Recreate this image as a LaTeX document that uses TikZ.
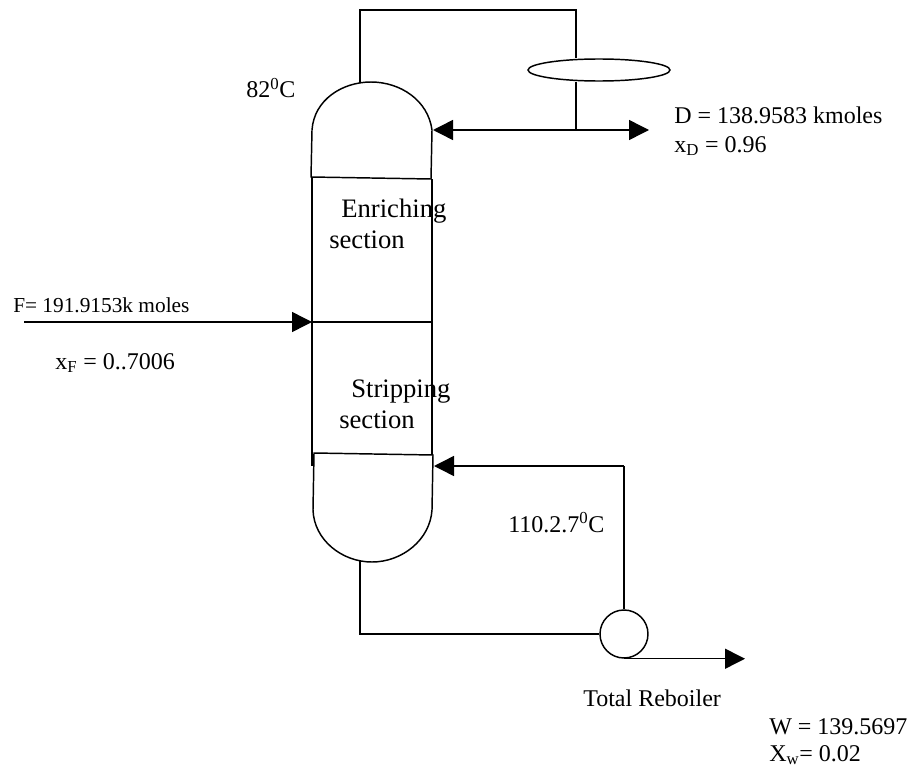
\documentclass[tikz,border=0pt]{standalone}
\usepackage{fontspec}
\setmainfont{Liberation Serif}
\usetikzlibrary{arrows.meta,shapes.geometric}
\tikzset{
  pipe/.style={draw=black,line width=1.1pt,line join=miter},
  flow/.style={pipe,-{Triangle[length=15pt,width=15pt]}},
  lbl/.style={inner sep=0pt,anchor=base west,font=\fontsize{18pt}{20pt}\selectfont},
  big/.style={inner sep=0pt,anchor=base west,font=\fontsize{20pt}{22pt}\selectfont},
  small/.style={inner sep=0pt,anchor=base west,font=\fontsize{16pt}{18pt}\selectfont},
  vessel/.style={draw=black,line width=1.1pt,fill=white}
}
\begin{document}
\begin{tikzpicture}[x=0.75pt,y=-0.75pt]
\useasboundingbox (0,0) rectangle (913,767);
\fill[white] (0,0) rectangle (913,767);
% named points
\coordinate (topA) at (360,83);
\coordinate (topB) at (360,10);
\coordinate (topC) at (576,10);
\coordinate (tee) at (576,130);
\coordinate (refluxIn) at (433,130);
\coordinate (distOut) at (649,130);
\coordinate (feedIn) at (24,322);
\coordinate (feedEnd) at (312,322);
\coordinate (midEnd) at (432,322);
\coordinate (botA) at (360,561);
\coordinate (botB) at (360,634);
\coordinate (boilIn) at (434,466);
\coordinate (corner) at (624,466);
\coordinate (wOut) at (745,634);
% column
\draw[pipe] (312,177) -- (312,466);
\draw[pipe,line width=0.9pt] (432,179) -- (432,455);
\draw[pipe] (feedEnd) -- (midEnd);
% top dome
\draw[pipe] (311,177) -- (312,130) .. controls (314,100) and (342,82) .. (371,82)
  .. controls (400,82) and (428,100) .. (432,130) -- (431,179) -- cycle;
% bottom dome
\draw[pipe] (314,453) -- (433,455) -- (432,510) .. controls (430,540) and (402,562) .. (372,562)
  .. controls (342,562) and (314,540) .. (313,510) -- cycle;
% piping
\node[ellipse,vessel,minimum width=106.5pt,minimum height=16.5pt,inner sep=0pt] (cond) at (599,70) {};
\draw[pipe] (topA) -- (topB) -- (topC) -- (topC |- cond.north);
\draw[pipe] (tee |- cond.south) -- (tee);
\draw[flow] (tee) -- (refluxIn);
\draw[flow] (tee) -- (distOut);
\draw[flow] (feedIn) -- (feedEnd);
\node[circle,vessel,minimum size=36pt,inner sep=0pt] (reb) at (624,634) {};
\draw[pipe] (botA) -- (botB) -- (reb.west);
\draw[pipe] (reb.north) -- (corner);
\draw[flow] (corner) -- (boilIn);
\draw[flow] (reb.south) -- (reb.south -| wOut);
% labels
\node[lbl] (t82) at (246,98) {82\textsuperscript{0}C};
\node[lbl] (tD) at (674,123) {D = 138.9583 kmoles};
\node[lbl] (tXD) at (674,152) {x\textsubscript{D} = 0.96};
\node[big] (tEn) at (341,217) {Enriching};
\node[big] (tEs) at (329,248) {section};
\node[small] (tF) at (13,312) {F= 191.9153k moles};
\node[lbl] (tXF) at (55,369) {x\textsubscript{F} = 0..7006};
\node[big] (tSt) at (351,397) {Stripping};
\node[big] (tSs) at (339,428) {section};
\node[lbl] (tT) at (508,532) {110.2.7\textsuperscript{0}C};
\node[lbl] (tR) at (583,706) {Total Reboiler};
\node[lbl] (tW) at (769,734) {W = 139.5697};
\node[lbl] (tXw) at (769,761) {X\textsubscript{w}= 0.02};
\end{tikzpicture}
\end{document}
